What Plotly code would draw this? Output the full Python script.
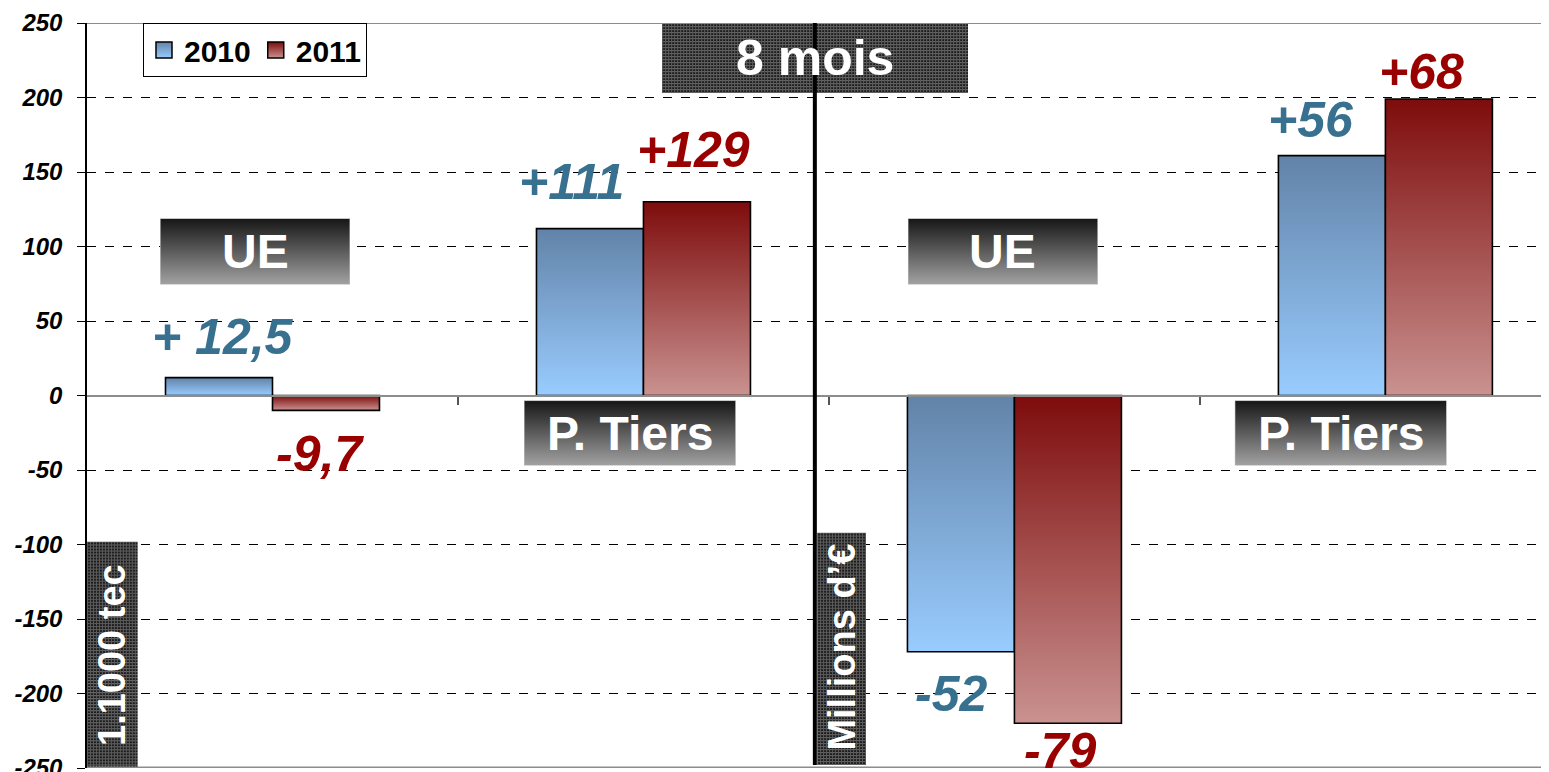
import base64
import plotly.graph_objects as go

# ---------------- data ----------------
categories = ["UE (1000 tec)", "P. Tiers (1000 tec)", "UE (M€)", "P. Tiers (M€)"]
series_names = ["2010", "2011"]
values_2010 = [12, 112, -172, 161]
values_2011 = [-10, 130, -220, 199]
labels_2010 = ["+ 12,5", "+111", "-52", "+56"]
labels_2011 = ["-9,7", "+129", "-79", "+68"]
group_titles = ["UE", "P. Tiers", "UE", "P. Tiers"]
y_ticks = [250, 200, 150, 100, 50, 0, -50, -100, -150, -200, -250]
title_text = "8 mois"
unit_left = "1.1000 tec"
unit_right = "Millions d’€"

# ---------------- style ----------------
FONT = "Liberation Sans, Arial, sans-serif"
BAR_W = 0.2884
series_styles = {
    "2010": dict(light="#99ccff", dark="#6283a8", text="#37718f", side=-1),
    "2011": dict(light="#c99290", dark="#7e0c0c", text="#990000", side=1),
}
# label pixel offsets (xshift, yshift) relative to bar end
label_offsets_2010 = [(4, 41), (-18, 47), (-10, -42), (-21, 36)]
label_offsets_2011 = [(-6, -44), (-3, 52), (-8, -28), (-17, 27)]

fig = go.Figure()

x_pos = list(range(len(categories)))
for name, vals in zip(series_names, [values_2010, values_2011]):
    st = series_styles[name]
    for i, (xc, v) in enumerate(zip(x_pos, vals)):
        x0 = xc if st["side"] > 0 else xc - BAR_W
        x1 = x0 + BAR_W
        fig.add_trace(go.Scatter(
            x=[x0, x1, x1, x0, x0], y=[0, 0, v, v, 0],
            mode="lines", fill="toself",
            line=dict(color="black", width=1.6),
            fillgradient=dict(type="vertical",
                              colorscale=[[0, st["light"]], [1, st["dark"]]]),
            name=name, showlegend=False,
            hoverinfo="text", text=f"{categories[i]} {name}: {v}",
        ))

# legend entries
for name in series_names:
    st = series_styles[name]
    fig.add_trace(go.Scatter(
        x=[None], y=[None], mode="markers", name=name,
        marker=dict(symbol="square", size=21, color=st["dark"],
                    gradient=dict(type="vertical", color=st["light"]),
                    line=dict(color="black", width=1.5)),
    ))

annotations = []
for name, vals, labs, offs in [("2010", values_2010, labels_2010, label_offsets_2010),
                                ("2011", values_2011, labels_2011, label_offsets_2011)]:
    st = series_styles[name]
    for xc, v, lab, (dx, dy) in zip(x_pos, vals, labs, offs):
        annotations.append(dict(
            x=xc + st["side"] * BAR_W / 2, y=v, xref="x", yref="y",
            text=lab, showarrow=False, xshift=dx, yshift=dy,
            font=dict(family=FONT, size=50, color=st["text"], weight="bold", style="italic"),
        ))


def svg_uri(w, h, body):
    svg = (f'<svg xmlns="http://www.w3.org/2000/svg" width="{w}" height="{h}" '
           f'viewBox="0 0 {w} {h}" preserveAspectRatio="none">{body}</svg>')
    return "data:image/svg+xml;base64," + base64.b64encode(svg.encode()).decode()


def gradient_box(w, h):
    return svg_uri(w, h,
                   '<defs><linearGradient id="g" x1="0" y1="0" x2="0" y2="1">'
                   '<stop offset="0" stop-color="#161616"/>'
                   '<stop offset="1" stop-color="#a2a2a2"/></linearGradient></defs>'
                   f'<rect width="{w}" height="{h}" fill="url(#g)" stroke="#c8c8c8" stroke-width="1"/>')


def pattern_box(w, h):
    return svg_uri(w, h,
                   '<defs><pattern id="p" width="3" height="3" patternUnits="userSpaceOnUse">'
                   '<rect width="3" height="3" fill="#1c1c1c"/>'
                   '<rect width="3" height="1" fill="#6a6a6a"/>'
                   '<rect width="1" height="3" fill="#5a5a5a"/></pattern></defs>'
                   f'<rect width="{w}" height="{h}" fill="url(#p)"/>')


images = []
# group title boxes: (category, x offset from centre, width, top y, height in data units)
title_boxes = [(0, -0.303, 0.512, 118.8, 44.3),
               (1, -0.322, 0.571, -3.4, 43.6),
               (2, -0.287, 0.512, 118.8, 44.3),
               (3, -0.406, 0.571, -3.4, 43.6)]
for (ci, dx, w, top, h), txt in zip(title_boxes, group_titles):
    images.append(dict(source=gradient_box(200, 70), xref="x", yref="y",
                       x=ci + dx, y=top, sizex=w, sizey=h,
                       xanchor="left", yanchor="top", sizing="stretch", layer="above"))
    annotations.append(dict(x=ci + dx + w / 2, y=top - h / 2, xref="x", yref="y",
                            text=txt, showarrow=False,
                            font=dict(family=FONT, size=48, color="white", weight="bold")))

# title box "8 mois"
images.append(dict(source=pattern_box(306, 70), xref="x", yref="y",
                   x=1.05, y=250, sizex=0.825, sizey=47,
                   xanchor="left", yanchor="top", sizing="stretch", layer="above"))
annotations.append(dict(x=1.462, y=226.5, xref="x", yref="y", text=title_text,
                        showarrow=False,
                        font=dict(family=FONT, size=50, color="white", weight="bold")))

# unit boxes
images.append(dict(source=pattern_box(51, 230), xref="x", yref="y",
                   x=-0.5, y=-98, sizex=0.137, sizey=155,
                   xanchor="left", yanchor="top", sizing="stretch", layer="above"))
annotations.append(dict(x=-0.432, y=-174, xref="x", yref="y", text=unit_left,
                        showarrow=False, textangle=-90,
                        font=dict(family=FONT, size=38, color="white", weight="bold")))
images.append(dict(source=pattern_box(49, 232), xref="x", yref="y",
                   x=1.468, y=-92, sizex=0.132, sizey=156,
                   xanchor="left", yanchor="top", sizing="stretch", layer="above"))
annotations.append(dict(x=1.536, y=-169, xref="x", yref="y", text=unit_right,
                        showarrow=False, textangle=-90,
                        font=dict(family=FONT, size=38, color="white", weight="bold")))

shapes = [
    dict(type="line", xref="paper", yref="y", x0=0, x1=1, y0=250, y1=250,
         line=dict(color="#8c8c8c", width=2), layer="above"),
    dict(type="line", xref="paper", yref="y", x0=0, x1=1, y0=-250, y1=-250,
         line=dict(color="#8c8c8c", width=3), layer="above"),
    dict(type="line", xref="x", yref="y", x0=1.462, x1=1.462, y0=-248, y1=250,
         line=dict(color="black", width=4), layer="above"),
]

# the page body has an 8px default margin: the figure is sized/offset for it
fig.update_layout(
    width=1541, height=764,
    margin=dict(l=79, r=0, t=15, b=4, autoexpand=False),
    paper_bgcolor="white", plot_bgcolor="white",
    font=dict(family=FONT),
    showlegend=True,
    legend=dict(x=0.0383, y=1.0, xanchor="left", yanchor="top",
                orientation="h", bgcolor="white", bordercolor="black", borderwidth=1,
                font=dict(family=FONT, size=30, color="black", weight="bold"),
                itemwidth=30, tracegroupgap=0),
    xaxis=dict(range=[-0.5, 3.441], showgrid=False, zeroline=False, automargin=False,
               showline=True, linecolor="#8c8c8c", linewidth=2,
               anchor="free", position=0.5,
               tickvals=[0.5, 1.5, 2.5], ticktext=["", "", ""],
               ticks="outside", ticklen=8, tickcolor="#555", tickwidth=1.5),
    yaxis=dict(range=[-250, 250], tickvals=y_ticks, automargin=False,
               ticktext=[str(t) for t in y_ticks],
               showgrid=True, gridcolor="black", griddash="dash", gridwidth=1,
               zeroline=False, showline=True, linecolor="black", linewidth=1.5,
               ticks="outside", ticklen=8, tickcolor="black",
               ticklabelstandoff=10, ticklabeloverflow="allow",
               tickfont=dict(family=FONT, size=24, color="black",
                             weight="bold", style="italic")),
    annotations=annotations,
    images=images,
    shapes=shapes,
)

fig.write_html("out.html")
